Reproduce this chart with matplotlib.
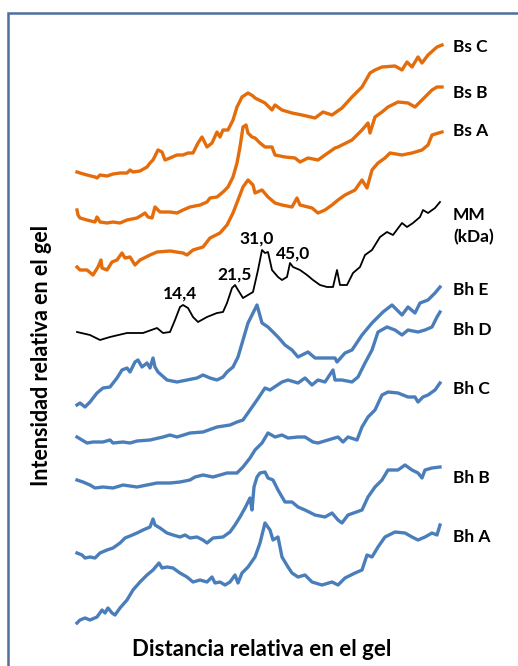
import matplotlib
matplotlib.use("Agg")
import matplotlib.pyplot as plt
from matplotlib.patches import Rectangle

plt.rcParams['font.family'] = ['Lato', 'DejaVu Sans']

NARANJA = '#E46C0A'
AZUL = '#4A7EBB'

# distancia relativa (u.a.) / intensidad relativa (u.a., con desplazamiento por carril)
bs_c_x = [0, 3, 10, 18, 20, 23, 30, 36, 43, 50, 53, 56, 63, 70, 73, 76, 81, 85, 88, 93, 100, 106, 111, 116, 121, 125, 130, 135, 140, 143, 146, 151, 156, 160, 165, 171, 176, 178, 188, 195, 198, 205, 215, 225, 238, 246, 255, 265, 275, 285, 293, 298, 305, 318, 325, 330, 335, 341, 345, 351, 360, 365]
bs_c_y = [494, 493, 491, 489, 488, 491, 490, 492, 493, 493, 496, 494, 495, 499, 503, 506, 516, 514, 506, 508, 511, 511, 513, 513, 523, 529, 519, 523, 534, 529, 536, 536, 546, 559, 569, 573, 570, 568, 563, 556, 561, 556, 553, 551, 548, 554, 551, 558, 569, 579, 593, 596, 599, 600, 596, 604, 599, 609, 603, 611, 619, 621]

bs_b_x = [0, 1, 3, 10, 18, 20, 23, 30, 36, 43, 50, 60, 65, 68, 71, 75, 78, 83, 93, 100, 106, 113, 123, 130, 133, 140, 146, 151, 156, 160, 163, 166, 169, 171, 175, 178, 183, 188, 195, 198, 208, 218, 223, 231, 241, 248, 258, 261, 275, 285, 291, 293, 298, 305, 311, 321, 331, 338, 343, 348, 355, 360, 365]
bs_b_y = [456, 451, 448, 446, 444, 449, 444, 443, 444, 443, 446, 448, 451, 453, 449, 448, 459, 454, 454, 453, 456, 459, 461, 464, 468, 469, 474, 479, 489, 503, 519, 539, 541, 533, 529, 528, 523, 519, 519, 511, 509, 508, 504, 508, 506, 511, 518, 519, 526, 536, 543, 533, 549, 554, 559, 564, 563, 559, 564, 569, 576, 579, 579]

bs_a_x = [0, 3, 10, 16, 21, 24, 25, 30, 35, 40, 45, 48, 53, 58, 63, 73, 80, 93, 106, 110, 116, 126, 133, 143, 150, 156, 161, 166, 171, 176, 178, 185, 191, 198, 205, 215, 220, 223, 235, 241, 248, 255, 261, 268, 278, 285, 290, 295, 301, 308, 313, 325, 335, 345, 351, 355, 365]
bs_a_y = [399, 396, 396, 391, 399, 406, 398, 396, 404, 406, 413, 408, 409, 401, 406, 411, 414, 415, 413, 411, 416, 419, 428, 433, 441, 453, 466, 479, 486, 481, 473, 476, 469, 463, 461, 459, 468, 461, 458, 453, 456, 461, 466, 471, 476, 486, 478, 496, 503, 508, 513, 511, 513, 516, 521, 531, 534]

mm_x = [0, 13, 23, 33, 50, 66, 80, 86, 93, 98, 103, 106, 111, 116, 121, 130, 140, 146, 150, 155, 158, 161, 166, 171, 176, 181, 185, 188, 191, 195, 201, 205, 210, 213, 216, 223, 230, 236, 243, 250, 256, 260, 263, 270, 276, 283, 288, 295, 303, 310, 316, 325, 330, 336, 343, 346, 351, 358, 363]
mm_y = [334, 331, 326, 329, 333, 333, 338, 333, 334, 346, 359, 361, 358, 349, 344, 349, 353, 354, 363, 378, 381, 376, 368, 371, 374, 396, 416, 413, 414, 396, 389, 386, 389, 403, 399, 396, 391, 386, 381, 379, 379, 396, 381, 381, 393, 399, 411, 416, 429, 434, 431, 443, 439, 443, 449, 456, 453, 458, 464]

bh_e_x = [0, 3, 8, 13, 20, 26, 33, 40, 45, 50, 53, 58, 61, 65, 70, 73, 76, 78, 81, 90, 100, 110, 120, 126, 133, 140, 146, 150, 156, 161, 166, 171, 176, 180, 185, 191, 201, 208, 215, 221, 231, 238, 245, 258, 260, 268, 275, 285, 295, 306, 315, 325, 331, 338, 343, 351, 358, 363]
bh_e_y = [261, 263, 259, 264, 273, 278, 279, 288, 296, 298, 294, 304, 306, 299, 303, 298, 308, 299, 294, 286, 284, 286, 288, 291, 288, 286, 289, 294, 299, 309, 326, 343, 353, 361, 343, 339, 329, 321, 316, 309, 314, 308, 308, 308, 304, 313, 316, 331, 343, 354, 361, 351, 359, 353, 363, 366, 373, 379]

bh_d_x = [0, 5, 10, 16, 26, 33, 36, 46, 53, 60, 73, 86, 93, 100, 113, 126, 140, 153, 160, 166, 173, 180, 188, 193, 205, 211, 221, 228, 235, 241, 248, 256, 258, 265, 275, 281, 288, 295, 301, 310, 318, 325, 331, 341, 348, 355, 360, 363]
bh_d_y = [229, 226, 223, 224, 224, 226, 223, 224, 223, 225, 226, 229, 231, 229, 233, 234, 239, 241, 244, 246, 256, 266, 278, 276, 284, 286, 283, 288, 281, 286, 284, 296, 286, 286, 284, 289, 303, 316, 334, 339, 336, 331, 336, 334, 336, 339, 349, 354]

bh_c_x = [0, 6, 13, 18, 26, 36, 46, 60, 70, 80, 93, 103, 113, 118, 126, 136, 150, 160, 166, 173, 178, 185, 191, 198, 205, 211, 221, 228, 236, 241, 251, 261, 266, 271, 280, 285, 291, 298, 305, 311, 321, 331, 338, 341, 346, 351, 358, 363]
bh_c_y = [186, 184, 181, 178, 179, 178, 181, 179, 181, 183, 183, 184, 186, 189, 191, 189, 193, 193, 199, 208, 216, 223, 233, 229, 231, 228, 229, 229, 224, 223, 226, 229, 224, 229, 226, 239, 249, 256, 271, 274, 273, 269, 269, 264, 269, 271, 276, 283]

bh_b_x = [0, 5, 8, 13, 18, 23, 30, 36, 43, 48, 53, 60, 66, 73, 76, 78, 83, 90, 96, 103, 108, 113, 120, 126, 130, 136, 146, 153, 158, 163, 168, 173, 175, 177, 180, 183, 188, 191, 196, 201, 208, 215, 221, 228, 238, 248, 255, 261, 265, 271, 285, 291, 298, 305, 311, 321, 328, 335, 341, 345, 348, 355, 363]
bh_b_y = [113, 111, 108, 109, 108, 113, 116, 118, 123, 128, 130, 133, 136, 139, 147, 141, 138, 133, 131, 129, 131, 128, 129, 126, 123, 128, 129, 134, 141, 149, 158, 168, 156, 179, 189, 193, 194, 188, 186, 176, 164, 164, 159, 156, 151, 149, 153, 146, 143, 151, 156, 169, 179, 186, 196, 196, 201, 196, 193, 188, 196, 198, 199]

bh_a_x = [0, 3, 8, 13, 20, 25, 28, 31, 35, 38, 43, 50, 56, 63, 70, 76, 82, 85, 90, 96, 103, 110, 116, 123, 130, 135, 138, 143, 148, 153, 158, 161, 165, 171, 178, 183, 188, 193, 196, 201, 205, 211, 215, 221, 228, 235, 245, 255, 261, 268, 278, 285, 290, 295, 301, 308, 318, 328, 335, 341, 348, 355, 360, 363]
bh_a_y = [43, 46, 48, 46, 49, 56, 53, 58, 53, 51, 58, 66, 76, 84, 91, 96, 103, 98, 99, 98, 93, 89, 84, 86, 84, 89, 83, 84, 81, 84, 91, 83, 93, 99, 109, 123, 143, 136, 126, 129, 109, 99, 93, 89, 91, 84, 81, 84, 81, 88, 93, 96, 111, 109, 119, 129, 134, 133, 129, 126, 129, 133, 131, 141]

nombres = ['Bs C', 'Bs B', 'Bs A', 'MM\n(kDa)', 'Bh E', 'Bh D', 'Bh C', 'Bh B', 'Bh A']
nombres_y = [619, 573, 535, 440, 376, 336, 277, 188, 129]

marcadores = ['14,4', '21,5', '31,0', '45,0']
marcadores_x = [103, 158, 180, 216]
marcadores_y = [372, 391, 427, 412]

fig = plt.figure(figsize=(5.18, 6.66), dpi=100)
ax = fig.add_axes([0, 0, 1, 1])
ax.set_xlim(-77, 441)
ax.set_ylim(0, 666)
ax.set_axis_off()

for xs, ys in [(bs_c_x, bs_c_y), (bs_b_x, bs_b_y), (bs_a_x, bs_a_y)]:
    ax.plot(xs, ys, color=NARANJA, lw=2.4, solid_joinstyle='round')
ax.plot(mm_x, mm_y, color='black', lw=1.3)
for xs, ys in [(bh_e_x, bh_e_y), (bh_d_x, bh_d_y), (bh_c_x, bh_c_y), (bh_b_x, bh_b_y), (bh_a_x, bh_a_y)]:
    ax.plot(xs, ys, color=AZUL, lw=2.4, solid_joinstyle='round')

for nom, yy in zip(nombres, nombres_y):
    ax.text(376, yy, nom, fontsize=12.5, fontweight='bold', ha='left', va='center', linespacing=1.4)

for txt, xx, yy in zip(marcadores, marcadores_x, marcadores_y):
    ax.text(xx, yy, txt, fontsize=12.5, fontweight='bold', ha='center', va='center')

ax.text(-35, 311, 'Intensidad relativa en el gel', rotation=90, fontsize=15.5, fontweight='bold', ha='center', va='center')
ax.text(185, 16, 'Distancia relativa en el gel', fontsize=16, fontweight='bold', ha='center', va='center')

fig.add_artist(Rectangle((8 / 518, -0.1), 1.2, 1.1 - 13 / 666, transform=fig.transFigure, fill=False,
                         edgecolor='#4F6F9F', lw=1.8, clip_on=False))

fig.savefig('out.png', dpi=100)
